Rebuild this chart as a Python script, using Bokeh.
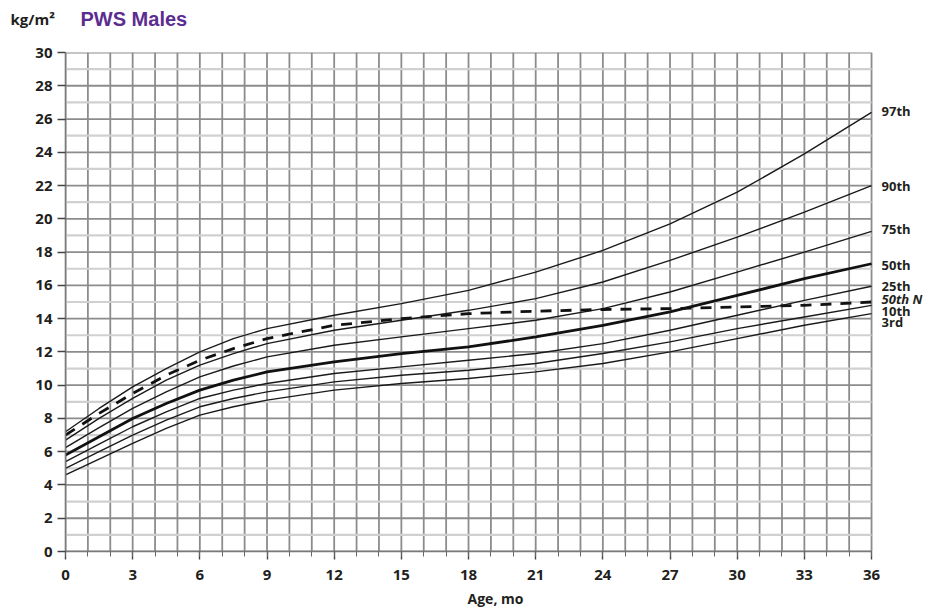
from bokeh.plotting import figure
from bokeh.models import FixedTicker, Range1d
from bokeh.layouts import column
from bokeh.core.properties import value
from bokeh.embed import file_html
from bokeh.resources import INLINE

# ---- data ----
months = [0, 1.5, 3, 4.5, 6, 7.5, 9, 12, 15, 18, 21, 24, 27, 30, 33, 36]
p97 = [7.2, 8.6, 9.9, 11.0, 12.0, 12.8, 13.4, 14.2, 14.9, 15.7, 16.8, 18.1, 19.7, 21.6, 23.9, 26.4]
p90 = [6.7, 8.0, 9.2, 10.3, 11.2, 11.9, 12.5, 13.3, 13.9, 14.5, 15.2, 16.2, 17.5, 18.9, 20.4, 22.0]
p75 = [6.25, 7.45, 8.6, 9.6, 10.5, 11.15, 11.7, 12.4, 12.9, 13.4, 13.9, 14.6, 15.6, 16.8, 18.0, 19.25]
p50 = [5.8, 6.9, 8.0, 8.9, 9.7, 10.3, 10.8, 11.4, 11.9, 12.3, 12.9, 13.6, 14.4, 15.4, 16.4, 17.3]
p25 = [5.4, 6.45, 7.5, 8.4, 9.2, 9.7, 10.1, 10.7, 11.1, 11.5, 11.9, 12.5, 13.3, 14.2, 15.1, 15.95]
p10 = [5.0, 6.0, 7.0, 7.9, 8.7, 9.2, 9.6, 10.2, 10.6, 10.9, 11.3, 11.9, 12.6, 13.4, 14.1, 14.8]
p03 = [4.6, 5.55, 6.5, 7.4, 8.2, 8.7, 9.1, 9.7, 10.1, 10.4, 10.8, 11.3, 12.0, 12.8, 13.6, 14.3]
p50n = [7.0, 8.3, 9.5, 10.6, 11.5, 12.2, 12.8, 13.6, 14.0, 14.3, 14.45, 14.55, 14.6, 14.7, 14.8, 15.0]

curve_names = ["97th", "90th", "75th", "50th", "25th", "10th", "3rd"]
label_n = ["50th N"]
unit_text = ["kg/m²"]
title_text = ["PWS Males"]

x_ticks = [0, 3, 6, 9, 12, 15, 18, 21, 24, 27, 30, 33, 36]
y_ticks = list(range(0, 31, 2))

# ---- layout constants ----
X_MAX = 36
Y_MAX = 30
label_y = [26.5, 22.0, 19.4, 17.25, 15.95, 14.45, 13.8]
label_n_y = [15.2]
FONT = "Open Sans"
INK = "#231f20"

# ---- title strip ----
t = figure(width=926, height=40, x_range=Range1d(0, 926), y_range=Range1d(40, 0),
           output_backend="svg", toolbar_location=None,
           min_border=0, min_border_left=0, min_border_right=0,
           min_border_top=0, min_border_bottom=0)
t.axis.visible = False
t.grid.visible = False
t.outline_line_color = None
t.text(x=[10], y=[18], text=unit_text, text_font=value(FONT), text_font_style="bold",
       text_font_size="15px", text_color=INK, text_baseline="middle", text_align="left")
t.text(x=[80], y=[18], text=title_text, text_font=value("Liberation Sans"),
       text_font_style="bold", text_font_size="20px", text_color="#5c2d91",
       text_baseline="middle", text_align="left")

# ---- main chart ----
p = figure(width=926, height=572, x_range=Range1d(0, 38.41), y_range=Range1d(0, Y_MAX),
           output_backend="svg", toolbar_location=None,
           min_border_left=65, min_border_right=1,
           min_border_top=12, min_border_bottom=61)
p.outline_line_color = None
p.xgrid.visible = False
p.ygrid.visible = False

for fig in (t, p):
    try:
        fig.frame_align = False
    except Exception:
        pass

# grid drawn only over the 0-36 x 0-30 area
gx = list(range(0, X_MAX + 1))
gy_minor = list(range(1, Y_MAX, 2))
p.segment(x0=gx, y0=[0] * len(gx), x1=gx, y1=[Y_MAX] * len(gx),
          line_color="#8c8c8c", line_width=1.8)
p.segment(x0=[0] * len(gy_minor), y0=gy_minor, x1=[X_MAX] * len(gy_minor), y1=gy_minor,
          line_color="#d0d0d0", line_width=2.2)
p.segment(x0=[0] * len(y_ticks), y0=y_ticks, x1=[X_MAX] * len(y_ticks), y1=y_ticks,
          line_color="#8c8c8c", line_width=1.8)

# axes
p.xaxis.ticker = FixedTicker(ticks=x_ticks, minor_ticks=gx)
p.yaxis.ticker = FixedTicker(ticks=y_ticks)
p.xaxis.bounds = (0, X_MAX)
p.yaxis.bounds = (0, Y_MAX)
for ax in (p.xaxis[0], p.yaxis[0]):
    ax.major_label_text_font = FONT
    ax.major_label_text_font_style = "bold"
    ax.major_label_text_font_size = "15px"
    ax.major_label_text_color = INK
    ax.axis_line_color = "#7a7a7a"
    ax.axis_line_width = 1.6
    ax.major_tick_line_color = "#444444"
    ax.major_tick_line_width = 1.4
    ax.major_tick_in = 0
    ax.major_tick_out = 8
p.yaxis.minor_tick_line_color = None
p.xaxis.minor_tick_line_color = "#666666"
p.xaxis.minor_tick_in = 0
p.xaxis.minor_tick_out = 5
p.yaxis.major_label_standoff = 5
p.xaxis.major_label_standoff = 10
p.xaxis.axis_label = "Age, mo"
p.xaxis.axis_label_text_font = FONT
p.xaxis.axis_label_text_font_style = "bold"
p.xaxis.axis_label_text_font_size = "14px"
p.xaxis.axis_label_text_color = INK
p.xaxis.axis_label_standoff = 6

# curves
for ys in (p97, p90, p75, p25, p10, p03):
    p.line(months, ys, line_color="#1a1a1a", line_width=1.4)
p.line(months, p50, line_color="#111111", line_width=2.8)
p.line(months, p50n, line_color="#111111", line_width=2.8, line_dash="11 9")

# right-side curve labels
p.text(x=[36.45] * len(curve_names), y=label_y, text=curve_names,
       text_font=value(FONT), text_font_style="bold", text_font_size="13px",
       text_color=INK, text_align="left", text_baseline="middle")
p.text(x=[36.45], y=label_n_y, text=label_n,
       text_font=value(FONT), text_font_style="bold italic", text_font_size="13px",
       text_color=INK, text_align="left", text_baseline="middle")

layout = column(t, p, spacing=0)
open("out.html", "w").write(file_html(layout, INLINE))
